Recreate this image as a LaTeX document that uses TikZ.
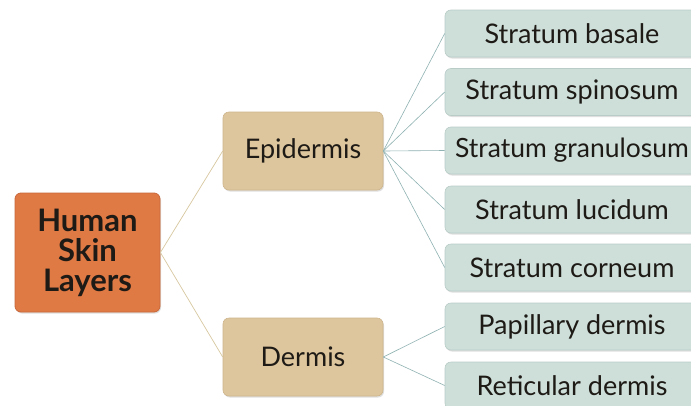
\documentclass[tikz,border=0pt]{standalone}
\usepackage{fontspec}
\setmainfont{Lato}
\usetikzlibrary{shadows}
\definecolor{orangebox}{HTML}{E07A45}
\definecolor{orangeedge}{HTML}{C9673A}
\definecolor{tanbox}{HTML}{DDC69D}
\definecolor{tanedge}{HTML}{CDB58C}
\definecolor{tealbox}{HTML}{CEDFDA}
\definecolor{tealedge}{HTML}{B9CCC7}
\definecolor{tanline}{HTML}{D8C8A0}
\definecolor{tealline}{HTML}{8FB2B2}
\definecolor{txt}{HTML}{1E1A16}
\tikzset{
  basebox/.style={rectangle, rounded corners=6pt, inner sep=0pt, text=txt,
    drop shadow={shadow xshift=1pt, shadow yshift=-1.5pt, opacity=0.25}},
  rootbox/.style={basebox, fill=orangebox, draw=orangeedge, line width=0.8pt,
    minimum width=145pt, minimum height=119pt, align=center,
    font=\fontsize{31}{30}\selectfont\bfseries},
  midbox/.style={basebox, fill=tanbox, draw=tanedge, line width=0.6pt,
    minimum width=160pt, minimum height=78pt, font=\fontsize{27}{30}\selectfont},
  leafbox/.style={basebox, fill=tealbox, draw=tealedge, line width=0.6pt,
    minimum width=262pt, minimum height=47pt},
  leaftext/.style={font=\fontsize{27}{30}\selectfont, text=txt, inner sep=0pt},
  tanlink/.style={draw=tanline, line width=0.7pt},
  teallink/.style={draw=tealline, line width=0.6pt}
}
\begin{document}
\begin{tikzpicture}[x=1pt,y=-1pt]
\useasboundingbox (0,0) rectangle (691,405);
\clip (0,0) rectangle (691,405);
\fill[white] (0,0) rectangle (691,405);
\node[rootbox] (root) at (87.5,252.5) {Human\\Skin\\Layers};
\node[midbox] (epi) at (303,151) {Epidermis};
\node[midbox] (der) at (303,357) {Dermis};
\node[leafbox] (b1) at (576,33.5) {};
\node[leafbox] (b2) at (576,92) {};
\node[leafbox] (b3) at (576,150.5) {};
\node[leafbox] (b4) at (576,209.5) {};
\node[leafbox] (b5) at (576,267.5) {};
\node[leafbox] (d1) at (576,326.5) {};
\node[leafbox] (d2) at (576,385.5) {};
\node[leaftext] (t1) at (572,33.5) {Stratum basale};
\node[leaftext] (t2) at (572,92) {Stratum spinosum};
\node[leaftext, font=\fontsize{26.5}{30}\selectfont] (t3) at (572,150.5) {Stratum granulosum};
\node[leaftext] (t4) at (572,209.5) {Stratum lucidum};
\node[leaftext] (t5) at (572,267.5) {Stratum corneum};
\node[leaftext] (t6) at (572,326.5) {Papillary dermis};
\node[leaftext] (t7) at (572,385.5) {Reticular dermis};
\draw[tanlink] (root.east) -- (epi.west);
\draw[tanlink] (root.east) -- (der.west);
\foreach \n in {b1,b2,b3,b4,b5}
  \draw[teallink] (epi.east) -- (\n.west);
\foreach \n in {d1,d2}
  \draw[teallink] (der.east) -- (\n.west);
\end{tikzpicture}
\end{document}
